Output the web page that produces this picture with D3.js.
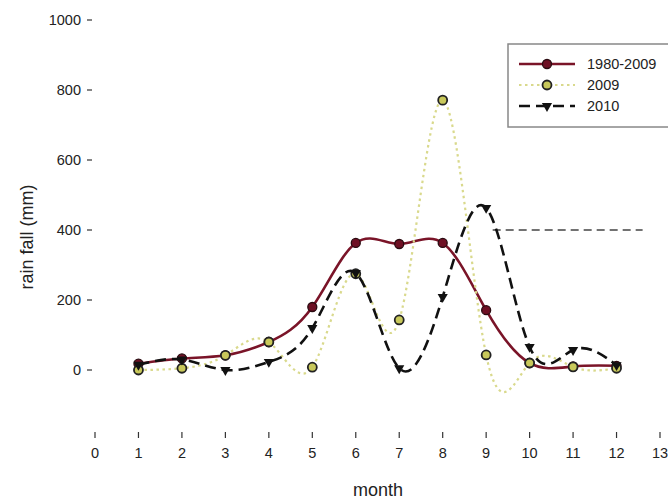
<!DOCTYPE html>
<html><head><meta charset="utf-8">
<script src="https://cdn.jsdelivr.net/npm/d3@7"></script>
<style>body{margin:0;background:#fff}svg{display:block}text{font-family:"Liberation Sans",Arial,sans-serif;fill:#222}</style>
</head><body><svg id="c" width="668" height="503"></svg>
<script>
const months = [1,2,3,4,5,6,7,8,9,10,11,12];
const seriesNames = ["1980-2009","2009","2010"];
const rain19802009 = [18,33,42,80,180,363,360,363,171,20,10,12];
const rain2009 = [0,5,42,80,8,275,143,771,43,20,9,5];
const rain2010 = [15,30,0,23,120,277,5,209,463,66,57,14];
const refLine = [[9.15,400],[12.6,400]];
const xTicks = [0,1,2,3,4,5,6,7,8,9,10,11,12,13];
const yTicks = [0,200,400,600,800,1000];

const svg = d3.select("#c");
const x = d3.scaleLinear().domain([0,13]).range([95,660]);
const y = d3.scaleLinear().domain([0,1000]).range([370,20]);

// y axis (ticks only)
const ya = svg.append("g");
yTicks.forEach(v=>{
  ya.append("line").attr("x1",87).attr("x2",92).attr("y1",y(v)).attr("y2",y(v)).attr("stroke","#333").attr("stroke-width",1.2);
  ya.append("text").attr("x",81).attr("y",y(v)).attr("dy","0.35em").attr("text-anchor","end").attr("font-size",14.5).text(v);
});
// x axis (ticks only)
const xa = svg.append("g");
xTicks.forEach(v=>{
  xa.append("line").attr("x1",x(v)).attr("x2",x(v)).attr("y1",432).attr("y2",438).attr("stroke","#333").attr("stroke-width",1.2);
  xa.append("text").attr("x",x(v)).attr("y",458).attr("text-anchor","middle").attr("font-size",14.5).text(v);
});
svg.append("text").attr("x",378).attr("y",496).attr("text-anchor","middle").attr("font-size",18).text("month");
svg.append("text").attr("transform","translate(33,237) rotate(-90)").attr("text-anchor","middle").attr("font-size",18).text("rain fall (mm)");

// reference dashed line
svg.append("path").datum(refLine)
  .attr("d",d3.line().x(d=>x(d[0])).y(d=>y(d[1])))
  .attr("stroke","#444").attr("stroke-width",1.6).attr("stroke-dasharray","8,5").attr("fill","none");

const line = d3.line().x((d,i)=>x(months[i])).y(d=>y(d)).curve(d3.curveNatural);

// 1980-2009
svg.append("path").datum(rain19802009).attr("d",line).attr("fill","none").attr("stroke","#7a1428").attr("stroke-width",2.6);
svg.selectAll(".m1").data(rain19802009).enter().append("circle")
  .attr("cx",(d,i)=>x(months[i])).attr("cy",d=>y(d)).attr("r",4.5)
  .attr("fill","#6e1024").attr("stroke","#2a0a10").attr("stroke-width",1.3);
// 2009
svg.append("path").datum(rain2009).attr("d",line).attr("fill","none").attr("stroke","#d9d98c").attr("stroke-width",2.2).attr("stroke-dasharray","2.5,3.5");
svg.selectAll(".m2").data(rain2009).enter().append("circle")
  .attr("cx",(d,i)=>x(months[i])).attr("cy",d=>y(d)).attr("r",4.5)
  .attr("fill","#c8c85a").attr("stroke","#222").attr("stroke-width",1.8);
// 2010
svg.append("path").datum(rain2010).attr("d",line).attr("fill","none").attr("stroke","#111").attr("stroke-width",2.6).attr("stroke-dasharray","11,6");
const tri = d3.symbol().type(d3.symbolTriangle).size(45);
svg.selectAll(".m3").data(rain2010).enter().append("path")
  .attr("d",tri).attr("transform",(d,i)=>`translate(${x(months[i])},${y(d)}) rotate(180)`)
  .attr("fill","#111");

// legend
const lg = svg.append("g");
lg.append("rect").attr("x",508).attr("y",44).attr("width",200).attr("height",83).attr("fill","#fff").attr("stroke","#888").attr("stroke-width",1.5);
const ly = [64,85,106];
// 1980-2009
lg.append("line").attr("x1",519).attr("x2",575).attr("y1",ly[0]).attr("y2",ly[0]).attr("stroke","#7a1428").attr("stroke-width",2.6);
lg.append("circle").attr("cx",547).attr("cy",ly[0]).attr("r",4.5).attr("fill","#6e1024").attr("stroke","#2a0a10").attr("stroke-width",1.3);
// 2009
lg.append("line").attr("x1",519).attr("x2",575).attr("y1",ly[1]).attr("y2",ly[1]).attr("stroke","#d9d98c").attr("stroke-width",2.2).attr("stroke-dasharray","2.5,3.5");
lg.append("circle").attr("cx",547).attr("cy",ly[1]).attr("r",4.5).attr("fill","#c8c85a").attr("stroke","#222").attr("stroke-width",1.8);
// 2010
lg.append("line").attr("x1",519).attr("x2",575).attr("y1",ly[2]).attr("y2",ly[2]).attr("stroke","#111").attr("stroke-width",2.6).attr("stroke-dasharray","11,6");
lg.append("path").attr("d",tri).attr("transform",`translate(547,${ly[2]}) rotate(180)`).attr("fill","#111");
seriesNames.forEach((n,i)=>{
  lg.append("text").attr("x",587).attr("y",ly[i]).attr("dy","0.35em").attr("font-size",14.5).text(n);
});
</script></body></html>
